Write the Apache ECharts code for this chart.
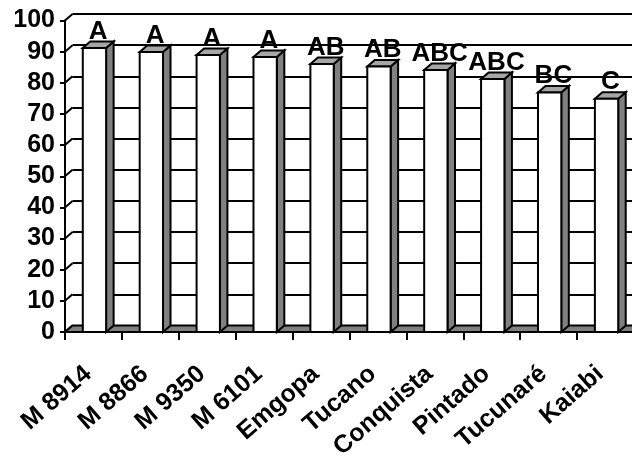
<!DOCTYPE html>
<html>
<head>
<meta charset="utf-8">
<script src="https://cdn.jsdelivr.net/npm/echarts@6/dist/echarts.min.js"></script>
<style>
html,body{margin:0;padding:0;background:#fff;}
#chart{width:632px;height:456px;}
</style>
</head>
<body>
<div id="chart"></div>
<script>
const categories = ['M 8914','M 8866','M 9350','M 6101','Emgopa','Tucano','Conquista','Pintado','Tucunaré','Kaiabi'];
const values = [91.2, 89.9, 88.9, 88.3, 86.0, 85.2, 84.1, 81.2, 76.9, 74.9];
const letters = ['A','A','A','A','AB','AB','ABC','ABC','BC','C'];
const yTicks = [0,10,20,30,40,50,60,70,80,90,100];

const DX = 7.5, DY = 6.5;
const FONT = 'Liberation Sans, Arial, sans-serif';

const chart = echarts.init(document.getElementById('chart'), null, {renderer:'canvas'});

const option = {
  animation: false,
  backgroundColor: '#fff',
  grid: [
    {left: 65, top: 20.5, width: 569, height: 311.5, outerBoundsMode: 'none', containLabel: false},
    {left: 65 + DX, top: 20.5 - DY, width: 569, height: 311.5, outerBoundsMode: 'none', containLabel: false}
  ],
  xAxis: [
    {
      type: 'category', gridIndex: 0, data: categories, boundaryGap: true,
      axisLine: {show: true, lineStyle: {color: '#000', width: 2}},
      axisTick: {show: true, inside: false, length: 8, lineStyle: {color: '#000', width: 2}},
      axisLabel: {interval: 0, rotate: 41, margin: 34, padding: [0, 7, 0, 0], color: '#000', fontWeight: 'bold', fontSize: 25, fontFamily: FONT},
      splitLine: {show: false}
    },
    {
      type: 'category', gridIndex: 1, data: categories, show: false
    }
  ],
  yAxis: [
    {
      type: 'value', gridIndex: 0, min: 0, max: 100, interval: 10,
      axisLine: {show: true, lineStyle: {color: '#000', width: 2}},
      axisTick: {show: true, inside: false, length: 5, lineStyle: {color: '#000', width: 2}},
      axisLabel: {margin: 10, color: '#000', fontWeight: 'bold', fontSize: 25, fontFamily: FONT},
      splitLine: {show: false}
    },
    {
      type: 'value', gridIndex: 1, min: 0, max: 100, interval: 10,
      axisLine: {show: false}, axisTick: {show: false}, axisLabel: {show: false},
      splitLine: {show: true, lineStyle: {color: '#000', width: 2}}
    }
  ],
  series: [
    {
      type: 'custom', xAxisIndex: 0, yAxisIndex: 0, z: 1, clip: false,
      data: yTicks.map(v => [0, v]),
      renderItem: function (params, api) {
        const cs = params.coordSys;
        const y = api.coord([0, api.value(1)])[1];
        return {
          type: 'polyline',
          shape: {points: [[cs.x, y], [cs.x + DX, y - DY]]},
          style: {stroke: '#000', lineWidth: 2, fill: null}
        };
      }
    },
    {
      type: 'custom', xAxisIndex: 0, yAxisIndex: 0, z: 2, clip: false,
      data: [[0, 0]],
      renderItem: function (params, api) {
        const cs = params.coordSys;
        const y0 = api.coord([0, 0])[1];
        return {
          type: 'polygon',
          shape: {points: [[cs.x, y0], [cs.x + DX, y0 - DY], [cs.x + cs.width + DX, y0 - DY], [cs.x + cs.width, y0]]},
          style: {fill: '#808080', stroke: '#000', lineWidth: 2}
        };
      }
    },
    {
      type: 'custom', xAxisIndex: 0, yAxisIndex: 0, z: 3, clip: false,
      data: values.map((v, i) => [i, v]),
      renderItem: function (params, api) {
        const c = api.coord([api.value(0), api.value(1)]);
        const b = api.coord([api.value(0), 0]);
        const bw = api.size([1, 0])[0] * 0.41;
        const xl = c[0] - bw / 2 + 1, xr = xl + bw;
        const yt = c[1], yb = b[1];
        return {
          type: 'group',
          children: [
            {type: 'polygon', shape: {points: [[xr, yb], [xr + DX, yb - DY], [xr + DX, yt - DY], [xr, yt]]},
              style: {fill: '#808080', stroke: '#000', lineWidth: 2}},
            {type: 'polygon', shape: {points: [[xl, yt], [xl + DX, yt - DY], [xr + DX, yt - DY], [xr, yt]]},
              style: {fill: '#a6a6a6', stroke: '#000', lineWidth: 2}},
            {type: 'rect', shape: {x: xl, y: yt, width: bw, height: yb - yt},
              style: {fill: '#fff', stroke: '#000', lineWidth: 2}},
            {type: 'text', style: {x: (xl + xr + DX) / 2, y: yt - DY + 3, text: letters[params.dataIndex],
              align: 'center', verticalAlign: 'bottom', fill: '#000',
              font: 'bold 26px ' + FONT}}
          ]
        };
      }
    }
  ]
};
chart.setOption(option);
</script>
</body>
</html>
